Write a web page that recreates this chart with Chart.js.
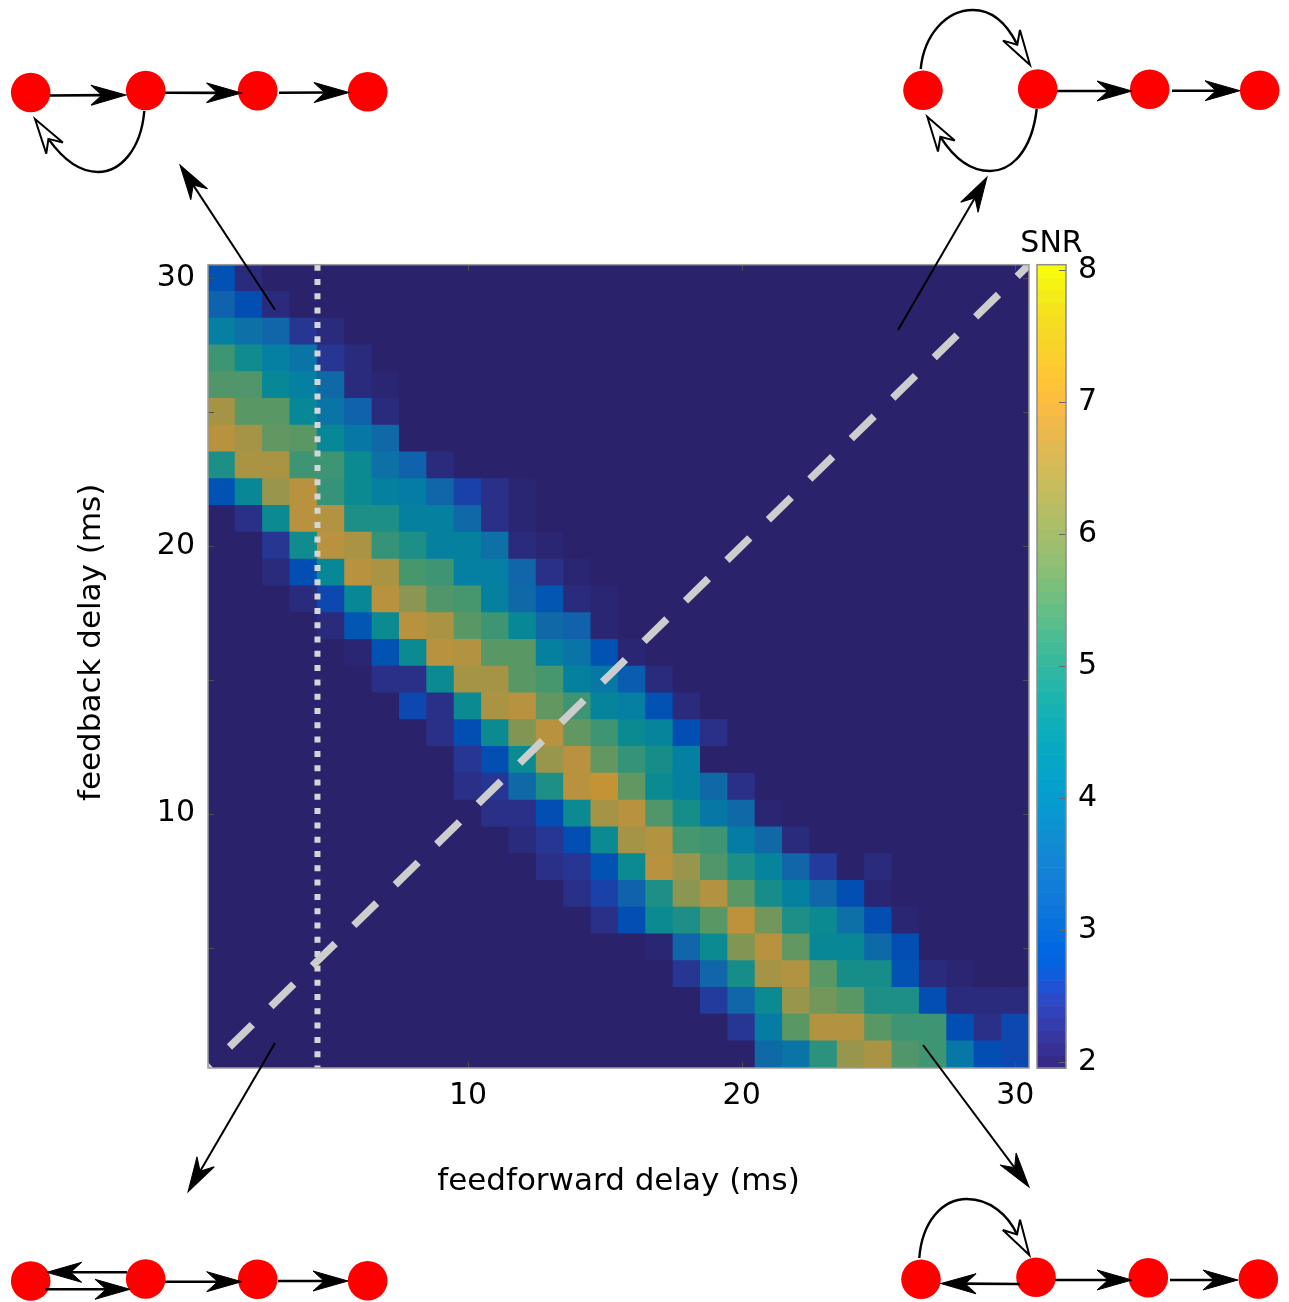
<!DOCTYPE html>
<html><head><meta charset="utf-8">
<script src="https://cdn.jsdelivr.net/npm/chart.js@4.4.1/dist/chart.umd.min.js"></script>
<style>
html,body{margin:0;padding:0;background:#fff;}
#wrap{position:relative;width:1289px;height:1302px;overflow:hidden;background:#fff;}
#main{position:absolute;left:0;top:0;}
#cbar{position:absolute;left:1000px;top:0;}
#diag{position:absolute;left:0;top:0;pointer-events:none;}
</style></head><body>
<div id="wrap">
<canvas id="main" width="1289" height="1302"></canvas>
<canvas id="cbar" width="289" height="1302"></canvas>
<svg id="diag" width="1289" height="1302" viewBox="0 0 1289 1302" xmlns="http://www.w3.org/2000/svg"></svg>
</div>
<script>
// ---------------- data ----------------
const feedforwardDelay = [1,2,3,4,5,6,7,8,9,10,11,12,13,14,15,16,17,18,19,20,21,22,23,24,25,26,27,28,29,30];
const feedbackDelay = [30,29,28,27,26,25,24,23,22,21,20,19,18,17,16,15,14,13,12,11,10,9,8,7,6,5,4,3,2,1];
// SNR, one row per feedback delay (top row = 30 ms), columns = feedforward delay 1..30 ms
const snrRows = [
[2.9,2.24,2.05,2.0,1.9,1.9,1.9,1.9,1.9,1.9,1.9,1.9,1.9,1.9,1.9,1.9,1.9,1.9,1.9,1.9,1.9,1.9,1.9,1.9,1.9,1.9,1.9,1.9,1.9,1.9],
[3.3,2.8,2.24,2.0,1.9,1.9,1.9,1.9,1.9,1.9,1.9,1.9,1.9,1.9,1.9,1.9,1.9,1.9,1.9,1.9,1.9,1.9,1.9,1.9,1.9,1.9,1.9,1.9,1.9,1.9],
[4.1,3.7,3.42,2.43,2.24,1.9,1.9,1.9,1.9,1.9,1.9,1.9,1.9,1.9,1.9,1.9,1.9,1.9,1.9,1.9,1.9,1.9,1.9,1.9,1.9,1.9,1.9,1.9,1.9,1.9],
[5.22,4.65,4.1,3.85,2.37,2.24,2.05,1.9,1.9,1.9,1.9,1.9,1.9,1.9,1.9,1.9,1.9,1.9,1.9,1.9,1.9,1.9,1.9,1.9,1.9,1.9,1.9,1.9,1.9,1.9],
[5.38,5.38,4.45,4.1,3.53,2.24,2.1,1.9,1.9,1.9,1.9,1.9,1.9,1.9,1.9,1.9,1.9,1.9,1.9,1.9,1.9,1.9,1.9,1.9,1.9,1.9,1.9,1.9,1.9,1.9],
[6.43,5.55,5.5,4.45,3.85,3.3,2.24,2.05,1.9,1.9,1.9,1.9,1.9,1.9,1.9,1.9,1.9,1.9,1.9,1.9,1.9,1.9,1.9,1.9,1.9,1.9,1.9,1.9,1.9,1.9],
[6.8,6.43,5.65,5.55,4.45,3.95,3.53,2.05,1.9,1.9,1.9,1.9,1.9,1.9,1.9,1.9,1.9,1.9,1.9,1.9,1.9,1.9,1.9,1.9,1.9,1.9,1.9,1.9,1.9,1.9],
[4.9,6.55,6.55,5.22,5.22,4.55,3.7,3.3,2.24,2.05,1.9,1.9,1.9,1.9,1.9,1.9,1.9,1.9,1.9,1.9,1.9,1.9,1.9,1.9,1.9,1.9,1.9,1.9,1.9,1.9],
[2.9,4.45,6.25,6.8,5.1,4.55,4.2,4.0,3.42,2.6,2.3,2.12,1.9,1.9,1.9,1.9,1.9,1.9,1.9,1.9,1.9,1.9,1.9,1.9,1.9,1.9,1.9,1.9,1.9,1.9],
[2.05,2.3,4.55,6.76,6.65,4.9,4.82,4.2,4.2,3.53,2.3,2.12,1.9,1.9,1.9,1.9,1.9,1.9,1.9,1.9,1.9,1.9,1.9,1.9,1.9,1.9,1.9,1.9,1.9,1.9],
[2.0,2.05,2.43,4.65,6.8,6.55,5.1,4.9,4.2,4.2,3.7,2.24,2.1,1.9,1.9,1.9,1.9,1.9,1.9,1.9,1.9,1.9,1.9,1.9,1.9,1.9,1.9,1.9,1.9,1.9],
[1.9,1.9,2.24,2.8,4.45,6.76,6.55,5.3,5.22,4.1,4.1,3.42,2.3,2.12,1.9,1.9,1.9,1.9,1.9,1.9,1.9,1.9,1.9,1.9,1.9,1.9,1.9,1.9,1.9,1.9],
[1.9,1.9,1.9,2.24,2.7,4.45,6.73,6.1,5.38,5.3,4.2,3.53,3.0,2.24,2.1,1.9,1.9,1.9,1.9,1.9,1.9,1.9,1.9,1.9,1.9,1.9,1.9,1.9,1.9,1.9],
[1.9,1.9,1.9,1.9,2.24,3.0,4.55,6.76,6.55,5.55,5.22,4.45,3.53,3.3,2.12,2.05,1.9,1.9,1.9,1.9,1.9,1.9,1.9,1.9,1.9,1.9,1.9,1.9,1.9,1.9],
[1.9,1.9,1.9,1.9,1.9,2.12,2.9,4.55,6.8,6.65,5.5,5.5,4.2,3.85,2.9,2.12,2.05,1.9,1.9,1.9,1.9,1.9,1.9,1.9,1.9,1.9,1.9,1.9,1.9,1.9],
[1.9,1.9,1.9,1.9,1.9,1.9,2.3,2.3,4.55,6.43,6.43,5.55,5.3,4.2,3.95,3.15,2.24,1.9,1.9,1.9,1.9,1.9,1.9,1.9,1.9,1.9,1.9,1.9,1.9,1.9],
[1.9,1.9,1.9,1.9,1.9,1.9,1.9,2.7,2.3,4.55,6.55,6.73,5.65,5.22,4.33,4.1,2.9,2.24,2.05,1.9,1.9,1.9,1.9,1.9,1.9,1.9,1.9,1.9,1.9,1.9],
[1.9,1.9,1.9,1.9,1.9,1.9,1.9,1.9,2.3,2.8,4.55,5.95,6.76,5.65,5.22,4.55,4.33,2.8,2.3,1.9,1.9,1.9,1.9,1.9,1.9,1.9,1.9,1.9,1.9,1.9],
[1.9,1.9,1.9,1.9,1.9,1.9,1.9,1.9,1.9,2.43,2.8,4.55,6.25,6.76,5.65,5.1,4.75,4.1,1.9,1.9,1.9,1.9,1.9,1.9,1.9,1.9,1.9,1.9,1.9,1.9],
[1.9,1.9,1.9,1.9,1.9,1.9,1.9,1.9,1.9,2.3,2.43,3.53,4.82,6.76,6.9,5.65,4.55,4.2,3.53,2.3,1.9,1.9,1.9,1.9,1.9,1.9,1.9,1.9,1.9,1.9],
[1.9,1.9,1.9,1.9,1.9,1.9,1.9,1.9,1.9,1.9,2.3,2.3,2.8,4.55,6.43,6.76,5.45,4.75,3.95,3.53,2.1,1.9,1.9,1.9,1.9,1.9,1.9,1.9,1.9,1.9],
[1.9,1.9,1.9,1.9,1.9,1.9,1.9,1.9,1.9,1.9,1.9,2.24,2.43,2.8,4.55,6.43,6.65,5.3,5.22,4.0,3.53,2.24,1.9,1.9,1.9,1.9,1.9,1.9,1.9,1.9],
[1.9,1.9,1.9,1.9,1.9,1.9,1.9,1.9,1.9,1.9,1.9,1.9,2.3,2.43,2.9,4.55,6.76,6.25,5.45,4.9,4.33,3.42,2.52,2.05,2.18,1.9,1.9,1.9,1.9,1.9],
[1.9,1.9,1.9,1.9,1.9,1.9,1.9,1.9,1.9,1.9,1.9,1.9,1.9,2.3,2.6,3.3,4.9,6.1,6.65,5.5,4.75,4.2,3.42,2.8,2.1,1.9,1.9,1.9,1.9,1.9],
[1.9,1.9,1.9,1.9,1.9,1.9,1.9,1.9,1.9,1.9,1.9,1.9,1.9,1.9,2.3,2.8,4.55,4.9,5.55,6.85,5.8,4.9,4.55,3.7,2.8,2.1,1.9,1.9,1.9,1.9],
[1.9,1.9,1.9,1.9,1.9,1.9,1.9,1.9,1.9,1.9,1.9,1.9,1.9,1.9,1.9,1.9,2.12,3.42,4.55,5.95,6.8,5.6,4.45,4.45,3.53,2.8,1.9,1.9,1.9,1.9],
[1.9,1.9,1.9,1.9,1.9,1.9,1.9,1.9,1.9,1.9,1.9,1.9,1.9,1.9,1.9,1.9,1.9,2.43,3.42,4.75,6.43,6.65,5.5,4.75,4.75,2.9,2.24,2.12,2.05,2.0],
[1.9,1.9,1.9,1.9,1.9,1.9,1.9,1.9,1.9,1.9,1.9,1.9,1.9,1.9,1.9,1.9,1.9,1.9,2.45,3.42,4.55,6.25,5.85,5.55,4.9,4.9,2.8,2.24,2.24,2.18],
[1.9,1.9,1.9,1.9,1.9,1.9,1.9,1.9,1.9,1.9,1.9,1.9,1.9,1.9,1.9,1.9,1.9,1.9,1.9,2.43,4.0,5.55,6.65,6.65,5.55,5.22,5.22,2.8,2.3,2.65],
[1.9,1.9,1.9,1.9,1.9,1.9,1.9,1.9,1.9,1.9,1.9,1.9,1.9,1.9,1.9,1.9,1.9,1.9,1.9,2.0,3.53,3.85,5.0,6.25,6.55,5.45,5.22,3.95,2.8,2.65]
];
const xTickValues = [10,20,30];
const yTickValues = [10,20,30];
const yTickMarks = [5,10,15,20,25,30];
const cbarTickValues = [2,3,4,5,6,7,8];
const colorLimits = [1.955, 8.04];
const diagonalLine = [{x:0.5,y:0.5},{x:30.5,y:30.5}];
const dottedLine = [{x:4.5,y:30.5},{x:4.5,y:0.5}];
const xTitle = 'feedforward delay (ms)';
const yTitle = 'feedback delay (ms)';

// ---------------- colormap (parula, 64 levels) ----------------
const PARULA = [
[0.2081,0.1663,0.5292],[0.2116,0.1898,0.5777],[0.2123,0.2138,0.6270],[0.2081,0.2386,0.6771],
[0.1959,0.2645,0.7279],[0.1707,0.2919,0.7792],[0.1253,0.3242,0.8303],[0.0591,0.3598,0.8683],
[0.0117,0.3875,0.8820],[0.0060,0.4086,0.8828],[0.0165,0.4266,0.8786],[0.0329,0.4430,0.8720],
[0.0498,0.4586,0.8641],[0.0629,0.4737,0.8554],[0.0723,0.4887,0.8467],[0.0779,0.5040,0.8384],
[0.0793,0.5200,0.8312],[0.0749,0.5375,0.8263],[0.0641,0.5570,0.8240],[0.0488,0.5772,0.8228],
[0.0343,0.5966,0.8199],[0.0265,0.6137,0.8135],[0.0239,0.6287,0.8038],[0.0231,0.6418,0.7913],
[0.0228,0.6535,0.7768],[0.0267,0.6642,0.7607],[0.0384,0.6743,0.7436],[0.0590,0.6838,0.7254],
[0.0843,0.6928,0.7062],[0.1133,0.7015,0.6859],[0.1453,0.7098,0.6646],[0.1801,0.7177,0.6424],
[0.2178,0.7250,0.6193],[0.2586,0.7317,0.5954],[0.3022,0.7376,0.5712],[0.3482,0.7424,0.5473],
[0.3953,0.7459,0.5244],[0.4420,0.7481,0.5033],[0.4871,0.7491,0.4840],[0.5300,0.7491,0.4661],
[0.5709,0.7485,0.4494],[0.6099,0.7473,0.4337],[0.6473,0.7456,0.4188],[0.6834,0.7435,0.4044],
[0.7184,0.7411,0.3905],[0.7525,0.7384,0.3768],[0.7858,0.7356,0.3633],[0.8185,0.7327,0.3498],
[0.8507,0.7299,0.3360],[0.8824,0.7274,0.3217],[0.9139,0.7258,0.3063],[0.9450,0.7261,0.2886],
[0.9739,0.7314,0.2666],[0.9938,0.7455,0.2403],[0.9990,0.7653,0.2164],[0.9955,0.7861,0.1967],
[0.9880,0.8066,0.1794],[0.9789,0.8271,0.1633],[0.9697,0.8481,0.1475],[0.9626,0.8705,0.1309],
[0.9589,0.8949,0.1132],[0.9598,0.9218,0.0948],[0.9661,0.9514,0.0755],[0.9763,0.9831,0.0538]];
function levelIndex(v){
  const t=(v-colorLimits[0])/(colorLimits[1]-colorLimits[0]);
  return Math.max(0,Math.min(63,Math.floor(t*64)));
}
function rgb(c,k){return 'rgb('+Math.round(c[0]*255*k)+','+Math.round(c[1]*255*k)+','+Math.round(c[2]*255*k)+')';}
const HEAT_DIM = 0.79;
function heatColor(v){return rgb(PARULA[levelIndex(v)],HEAT_DIM);}

// ---------------- build heatmap cells ----------------
const cells = [], cellColors = [];
feedbackDelay.forEach((fb,r)=>{
  feedforwardDelay.forEach((ff,c)=>{
    const v = snrRows[r][c];
    cells.push({x:ff, y:[fb-0.5, fb+0.5], v:v});
    cellColors.push(heatColor(v));
  });
});

Chart.defaults.font.family = "'DejaVu Sans', sans-serif";
Chart.defaults.color = '#000';

const framePlugin = {
  id:'frame',
  beforeDatasetsDraw(chart){
    const {ctx, chartArea:a} = chart;
    ctx.save(); ctx.fillStyle=heatColor(colorLimits[0]);
    ctx.fillRect(a.left,a.top,a.right-a.left,a.bottom-a.top); ctx.restore();
  },
  afterDatasetsDraw(chart){
    const {ctx, chartArea:a, scales:{x,y}} = chart;
    ctx.save();
    ctx.strokeStyle='#4d4d4d'; ctx.lineWidth=1;
    ctx.beginPath();
    yTickMarks.forEach(v=>{const p=Math.round(y.getPixelForValue(v))+0.5;
      ctx.moveTo(a.left,p);ctx.lineTo(a.left+6,p);ctx.moveTo(a.right,p);ctx.lineTo(a.right-6,p);});
    xTickValues.forEach(v=>{const p=Math.round(x.getPixelForValue(v))+0.5;
      ctx.moveTo(p,a.bottom);ctx.lineTo(p,a.bottom-6);ctx.moveTo(p,a.top);ctx.lineTo(p,a.top+6);});
    ctx.stroke();
    ctx.strokeStyle='#9c9c9c'; ctx.lineWidth=1.5;
    ctx.strokeRect(a.left,a.top,a.right-a.left,a.bottom-a.top);
    ctx.restore();
  },
  afterDraw(chart){
    // y-axis title, placed as in the original figure (slightly above the axis centre)
    const {ctx, chartArea:a} = chart;
    ctx.save();
    ctx.translate(a.left-116.5, (a.top+a.bottom)/2-24);
    ctx.rotate(-Math.PI/2);
    ctx.font="31px 'DejaVu Sans'"; ctx.fillStyle='#000'; ctx.textAlign='center'; ctx.textBaseline='middle';
    ctx.fillText(yTitle,0,0);
    ctx.restore();
  }
};

new Chart(document.getElementById('main'),{
  type:'bar',
  data:{datasets:[
    {type:'line', label:'diagonal', data:diagonalLine, borderColor:'#cdcdcd', borderWidth:7.5,
     borderDash:[32,26], borderDashOffset:28, pointRadius:0, fill:false, order:0},
    {type:'line', label:'dotted', data:dottedLine, borderColor:'#d5d5d5', borderWidth:6,
     borderDash:[6,8.3], pointRadius:0, fill:false, order:0},
    {type:'bar', label:'SNR', data:cells, backgroundColor:cellColors, borderWidth:0,
     inflateAmount:0.6, barPercentage:1, categoryPercentage:1, order:1}
  ]},
  options:{
    responsive:false, animation:false, devicePixelRatio:1, events:[],
    layout:{padding:{left:69, top:264.7, right:260, bottom:100}},
    plugins:{legend:{display:false}, tooltip:{enabled:false}},
    scales:{
      x:{type:'linear', min:0.5, max:30.5, offset:false, position:'bottom',
         grid:{display:false}, border:{display:false},
         afterBuildTicks:s=>{s.ticks=xTickValues.map(v=>({value:v}));},
         ticks:{font:{size:30}, color:'#000', padding:2, maxRotation:0, autoSkip:false},
         title:{display:true, text:xTitle, font:{size:31}, color:'#000', padding:{top:4,bottom:1}},
         afterFit:s=>{s.height=134;}},
      y:{type:'linear', min:0.5, max:30.5, offset:false, position:'left',
         grid:{display:false}, border:{display:false},
         afterBuildTicks:s=>{s.ticks=yTickValues.map(v=>({value:v}));},
         ticks:{font:{size:30}, color:'#000', padding:5, autoSkip:false},
         title:{display:false, text:yTitle},
         afterFit:s=>{s.width=139;}}
    }
  },
  plugins:[framePlugin]
});

// ---------------- colorbar ----------------
const colorbarPlugin = {
  id:'colorbar',
  beforeDatasetsDraw(chart){
    const {ctx, chartArea:a, scales:{y}} = chart;
    ctx.save();
    const step=(colorLimits[1]-colorLimits[0])/64;
    for(let i=0;i<64;i++){
      const lo=colorLimits[0]+i*step, hi=lo+step;
      const p1=y.getPixelForValue(hi), p2=y.getPixelForValue(lo);
      ctx.fillStyle=rgb(PARULA[i],1);
      ctx.fillRect(a.left,p1,a.right-a.left,p2-p1+0.6);
    }
    ctx.strokeStyle='#666'; ctx.lineWidth=1;
    ctx.beginPath();
    cbarTickValues.forEach(v=>{const p=Math.round(y.getPixelForValue(v))+0.5;
      ctx.moveTo(a.right,p);ctx.lineTo(a.right-7,p);});
    ctx.stroke();
    ctx.strokeStyle='#8c8c8c'; ctx.lineWidth=1.5;
    ctx.strokeRect(a.left,a.top,a.right-a.left,a.bottom-a.top);
    ctx.fillStyle='#000'; ctx.font="30px 'DejaVu Sans'"; ctx.textAlign='center'; ctx.textBaseline='middle';
    ctx.fillText('SNR',(a.left+a.right)/2,a.top-20);
    ctx.restore();
  }
};
new Chart(document.getElementById('cbar'),{
  type:'scatter',
  data:{datasets:[{data:[]}]},
  options:{
    responsive:false, animation:false, devicePixelRatio:1, events:[],
    layout:{padding:{left:37, top:264.7, right:0, bottom:234}},
    plugins:{legend:{display:false}, tooltip:{enabled:false}},
    scales:{
      x:{type:'linear', display:false, min:0, max:1},
      y:{type:'linear', position:'right', min:colorLimits[0], max:colorLimits[1],
         grid:{display:false}, border:{display:false},
         afterBuildTicks:s=>{s.ticks=cbarTickValues.map(v=>({value:v}));},
         ticks:{font:{size:30}, color:'#000', padding:4, autoSkip:false},
         afterFit:s=>{s.width=223;}}
    }
  },
  plugins:[colorbarPlugin]
});

// ---------------- network diagrams (decoration) ----------------
const svg = document.getElementById('diag');
const NS='http://www.w3.org/2000/svg';
function el(tag,attrs){const e=document.createElementNS(NS,tag);for(const k in attrs)e.setAttribute(k,attrs[k]);svg.appendChild(e);return e;}
const HEAD='M0,0 L-35,-10 L-24,0 L-35,10 Z';
function head(x,y,deg,open){el('path',{d:HEAD,transform:'translate('+x+','+y+') rotate('+deg+')',
  fill:open?'#fff':'#000',stroke:'#000','stroke-width':open?2:1,'stroke-linejoin':'miter'});}
function arrow(x1,y1,x2,y2,w){
  const a=Math.atan2(y2-y1,x2-x1), d=a*180/Math.PI;
  el('line',{x1:x1,y1:y1,x2:x2-22*Math.cos(a),y2:y2-22*Math.sin(a),stroke:'#000','stroke-width':w});
  head(x2,y2,d,false);
}
function curve(path,tx,ty,deg){el('path',{d:path,fill:'none',stroke:'#000','stroke-width':2.4});head(tx,ty,deg,true);}
function node(x,y){el('circle',{cx:x,cy:y,r:19.8,fill:'#ff0000'});}

// top-left network
[[30.7,92.5],[145.7,90.5],[257.7,90.7],[367.7,91.7]].forEach(p=>node(p[0],p[1]));
arrow(50,95.5,126,95,2.6); arrow(165,92.7,241.5,93,2.6); arrow(279,92.7,349,92.5,2.6);
curve('M144.3,111 C141,150 120,172 98,172 C78,172 62,158 48.4,138.9',35,119,-124);
// top-right network
[[923,90.3],[1037.7,89],[1149.7,89.3],[1259.7,90.3]].forEach(p=>node(p[0],p[1]));
arrow(1057,91,1132,91,2.6); arrow(1172,90.7,1240,90.7,2.6);
curve('M920.7,69 C924,35 946,10 973,10 C994,10 1008,26 1017.3,44.6',1030,65,58);
curve('M1036.7,109 C1032,150 1012,171 990,171 C968,171 952,155 940.4,136.8',927.3,116.7,-123);
// bottom-left network
[[30.7,1281],[145.7,1279],[257.7,1279.3],[367.7,1280.7]].forEach(p=>node(p[0],p[1]));
arrow(127,1272.3,46.7,1272.3,2.6); arrow(45,1289.3,130,1289.3,2.6);
arrow(165,1281.7,241.7,1281.7,2.6); arrow(278,1281,348,1281,2.6);
// bottom-right network
[[921,1279.3],[1036,1277.3],[1148.3,1277.7],[1258.3,1279]].forEach(p=>node(p[0],p[1]));
arrow(1020,1284,941,1283.5,2.6); arrow(1055,1280,1132,1280,2.6); arrow(1170,1280,1238,1280,2.6);
curve('M919.3,1258 C922,1222 942,1199 967,1199 C990,1199 1008,1215 1017.1,1234.4',1029.3,1255,59.3);
// pointer arrows from the map corners
arrow(275,309.7,180,165,2); arrow(898,330,987,177,2); arrow(275,1043,188,1192,2); arrow(923,1045,1029,1187,2);
</script>
</body></html>
